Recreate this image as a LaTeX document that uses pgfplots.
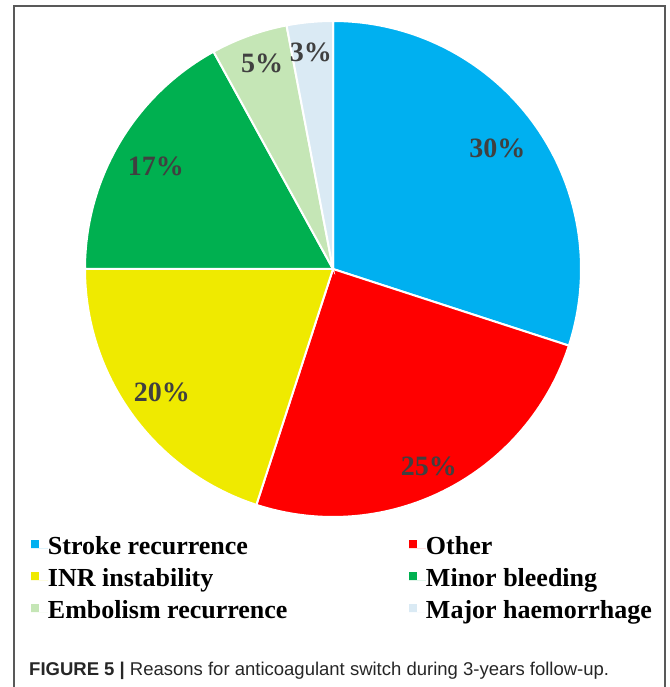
\documentclass[border=0pt]{standalone}
\usepackage{fontspec}
\setmainfont{Liberation Serif}
\newfontfamily\capfont{Liberation Sans}
\usepackage{pgfplots}
\pgfplotsset{compat=1.18}
\definecolor{cStroke}{HTML}{00B0F0}
\definecolor{cOther}{HTML}{FF0000}
\definecolor{cINR}{HTML}{EFEA00}
\definecolor{cMinor}{HTML}{00B050}
\definecolor{cEmb}{HTML}{C5E6B6}
\definecolor{cMajor}{HTML}{DAEAF4}
\definecolor{lab}{HTML}{404040}
\definecolor{frame}{HTML}{595959}
\begin{document}
\begin{tikzpicture}
\clip (0pt,0pt) rectangle (669pt,687pt);
\draw[frame, line width=1.5pt] (14pt,-10pt) rectangle (665pt,681pt);
\begin{axis}[at={(333pt,418pt)}, anchor=origin,
  x=248pt, y=248pt, xmin=-1.05, xmax=1.05, ymin=-1.05, ymax=1.05,
  hide axis, clip=false,
  legend columns=2, legend cell align=left,
  legend image code/.code={\path[draw=none,#1,draw=none] (0pt,0pt) rectangle (8pt,8pt); \path[draw=none] (0pt,0pt) -- (17pt,0pt);},
  legend style={at={(-0.0799,-0.0146)}, anchor=north west, draw=none, fill=none,
    inner sep=0pt, outer sep=0pt, row sep=10pt, column sep=0pt,
    font=\fontsize{26}{26}\selectfont\bfseries,
    nodes={inner sep=0pt, text height=17pt, text depth=5pt}},
]
% percentages: Stroke 30, Other 25, INR 20, Minor 17, Embolism 5, Major 3 (clockwise from top)
\addplot[forget plot, fill=cStroke, draw=white, line width=2pt, data cs=polar, domain=-18:90, samples=80] (x,1) -- (axis cs:0,0) -- cycle;
\addplot[forget plot, fill=cOther, draw=white, line width=2pt, data cs=polar, domain=-108:-18, samples=70] (x,1) -- (axis cs:0,0) -- cycle;
\addplot[forget plot, fill=cINR, draw=white, line width=2pt, data cs=polar, domain=-180:-108, samples=60] (x,1) -- (axis cs:0,0) -- cycle;
\addplot[forget plot, fill=cMinor, draw=white, line width=2pt, data cs=polar, domain=-241.2:-180, samples=50] (x,1) -- (axis cs:0,0) -- cycle;
\addplot[forget plot, fill=cEmb, draw=white, line width=2pt, data cs=polar, domain=-259.2:-241.2, samples=20] (x,1) -- (axis cs:0,0) -- cycle;
\addplot[forget plot, fill=cMajor, draw=white, line width=2pt, data cs=polar, domain=-270:-259.2, samples=12] (x,1) -- (axis cs:0,0) -- cycle;

\addlegendimage{fill=cStroke}\addlegendentry{\makebox[361pt][l]{Stroke recurrence}}
\addlegendimage{fill=cOther}\addlegendentry{Other}
\addlegendimage{fill=cINR}\addlegendentry{\makebox[361pt][l]{INR instability}}
\addlegendimage{fill=cMinor}\addlegendentry{Minor bleeding}
\addlegendimage{fill=cEmb}\addlegendentry{\makebox[361pt][l]{Embolism recurrence}}
\addlegendimage{fill=cMajor}\addlegendentry{Major haemorrhage}

\begin{scope}[every node/.style={anchor=base, text=lab, inner sep=0pt, font=\fontsize{28}{28}\selectfont\bfseries}]
\node at (axis cs:0.663,0.448) {30\%};
\node at (axis cs:0.387,-0.831) {25\%};
\node at (axis cs:-0.690,-0.536) {20\%};
\node at (axis cs:-0.714,0.379) {17\%};
\node at (axis cs:-0.286,0.794) {5\%};
\node at (axis cs:-0.089,0.835) {3\%};
\end{scope}
\end{axis}
\node[anchor=base west, inner sep=0pt, text=black!85, font=\capfont\fontsize{18.5}{18.5}\selectfont] at (29pt,12pt) {\textbf{FIGURE 5 |} Reasons for anticoagulant switch during 3-years follow-up.};
\end{tikzpicture}
\end{document}
